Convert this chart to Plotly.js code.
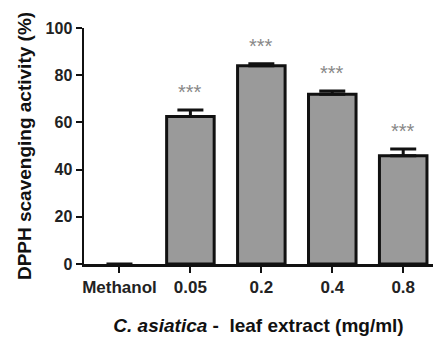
<!DOCTYPE html>
<html><head><meta charset="utf-8">
<script src="https://cdn.plot.ly/plotly-3.0.1.min.js"></script>
<style>html,body{margin:0;padding:0;background:#fff}#chart{width:433px;height:339px}</style>
</head><body><div id="chart"></div>
<script>
var categories = ["Methanol", "0.05", "0.2", "0.4", "0.8"];
var activity = [0, 62.5, 84.0, 71.9, 45.9];
var sem = [0, 2.8, 0.8, 1.4, 2.8];
var significance = ["", "***", "***", "***", "***"];
var yTicks = [0, 20, 40, 60, 80, 100];

var fontFam = "Liberation Sans, Arial, sans-serif";
var traces = [
  {
    type: "bar", x: categories, y: activity,
    marker: { color: "#9a9a9a",
              line: { color: "#111111", width: activity.map(function (v) { return v > 0 ? 3 : 0; }) } },
    error_y: { type: "data", symmetric: false,
               array: sem.map(function (e, i) { return activity[i] > 0 ? e : null; }),
               arrayminus: sem.map(function (e, i) { return activity[i] > 0 ? 0 : null; }),
               color: "#111111", thickness: 3, width: 13 },
    hoverinfo: "none"
  }
];

var annotations = [];
categories.forEach(function (c, i) {
  if (!significance[i]) return;
  annotations.push({ x: i, y: activity[i] + sem[i], text: significance[i], showarrow: false,
           xanchor: "center", yanchor: "bottom", yshift: 5,
           font: { family: fontFam, size: 20, color: "#888888" } });
});

var layout = {
  width: 433, height: 339,
  margin: { l: 84, r: 0, t: 28, b: 75 },
  paper_bgcolor: "#ffffff", plot_bgcolor: "#ffffff",
  showlegend: false, bargap: 0.33,
  font: { family: fontFam, color: "#111111" },
  annotations: annotations,
  xaxis: {
    type: "category", range: [-0.5, 4.42],
    showline: true, linecolor: "#111111", linewidth: 2.5,
    ticks: "outside", ticklen: 6, tickwidth: 2, tickcolor: "#111111",
    showgrid: false, zeroline: false,
    tickfont: { family: fontFam, size: 17, color: "#222222", weight: "bold" },
    title: { text: "<i>C. asiatica</i> -  leaf extract (mg/ml)", standoff: 23,
             font: { family: fontFam, size: 19, color: "#111111", weight: "bold" } }
  },
  yaxis: {
    range: [0, 100], tickvals: yTicks, ticktext: yTicks.map(String),
    showline: true, linecolor: "#111111", linewidth: 2.5,
    ticks: "outside", ticklen: 6, tickwidth: 2, tickcolor: "#111111",
    showgrid: false, zeroline: false,
    tickfont: { family: fontFam, size: 16, color: "#222222", weight: "bold" },
    title: { text: "DPPH scavenging activity (%)", standoff: 9,
             font: { family: fontFam, size: 19, color: "#111111", weight: "bold" } }
  }
};

Plotly.newPlot("chart", traces, layout, { staticPlot: true, displayModeBar: false });
</script></body></html>
